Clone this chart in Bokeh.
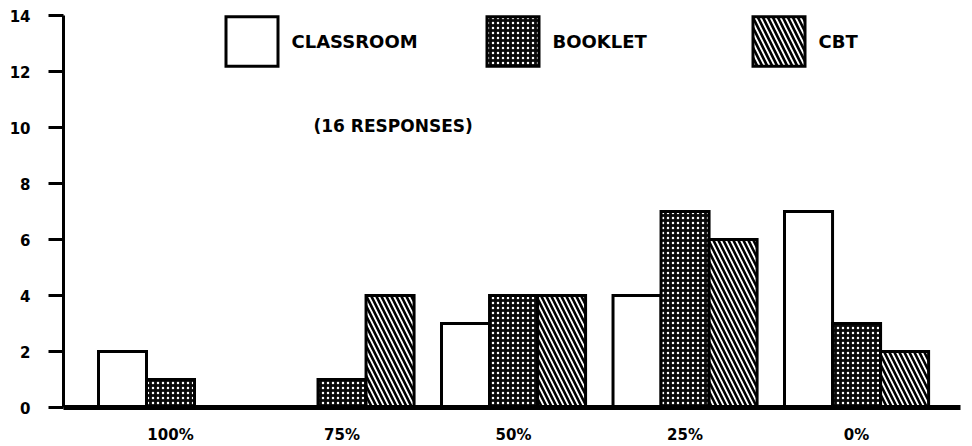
from bokeh.plotting import figure
from bokeh.models import Legend, LegendItem, Label, FixedTicker
from bokeh.embed import file_html
from bokeh.resources import INLINE
import numpy as np

# ---- data ----
categories = ["100%", "75%", "50%", "25%", "0%"]
classroom = [2, 0, 3, 4, 7]
booklet = [1, 1, 4, 7, 3]
cbt = [0, 4, 4, 6, 2]
y_ticks = [0, 2, 4, 6, 8, 10, 12, 14]
series_names = ["CLASSROOM", "BOOKLET", "CBT"]
note = "(16 RESPONSES)"

FONT = "DejaVu Sans"
idx = np.arange(len(categories))
W = 0.28

p = figure(width=970, height=446, x_range=(-0.624, 4.606), y_range=(0, 14),
           output_backend="svg", toolbar_location=None,
           min_border_left=63, min_border_right=10, min_border_top=15, min_border_bottom=38)
p.outline_line_color = None
p.xgrid.visible = False
p.ygrid.visible = False
p.background_fill_color = "white"

common = dict(width=W, bottom=0, line_color="black", line_width=3, line_join="miter")
r1 = p.vbar(x=idx - W, top=classroom, fill_color="white", **common)
r2 = p.vbar(x=idx, top=booklet, fill_color="#0a0a0a", hatch_pattern="dot",
            hatch_color="white", hatch_scale=5, hatch_weight=1, **common)
r3 = p.vbar(x=idx + W, top=cbt, fill_color="white", hatch_pattern="left_diagonal_line",
            hatch_color="black", hatch_scale=10, hatch_weight=2.6, **common)

# axes
p.xaxis.ticker = FixedTicker(ticks=list(idx))
p.xaxis.major_label_overrides = {int(i): c for i, c in zip(idx, categories)}
p.xaxis.major_tick_line_color = None
p.xaxis.minor_tick_line_color = None
p.xaxis.axis_line_width = 5
p.xaxis.major_label_standoff = 12
p.xaxis.major_label_text_font = FONT
p.xaxis.major_label_text_font_style = "bold"
p.xaxis.major_label_text_font_size = "15px"
p.xaxis.major_label_text_color = "black"

p.yaxis.ticker = FixedTicker(ticks=y_ticks)
p.yaxis.axis_line_width = 3
p.yaxis.major_tick_line_width = 3
p.yaxis.major_tick_out = 15
p.yaxis.major_tick_in = 0
p.yaxis.minor_tick_line_color = None
p.yaxis.major_label_standoff = 18
p.yaxis.major_label_text_font = FONT
p.yaxis.major_label_text_font_style = "bold"
p.yaxis.major_label_text_font_size = "15px"
p.yaxis.major_label_text_color = "black"

# legends (one per item, placed like the original)
legend_x = [155.5, 416.5, 682.5]
for name, r, lx in zip(series_names, [r1, r2, r3], legend_x):
    lg = Legend(items=[LegendItem(label=name, renderers=[r])], location=(lx, 335),
                glyph_width=65, glyph_height=62, label_standoff=8, padding=0, margin=0,
                border_line_color=None, background_fill_alpha=0,
                label_text_font=FONT, label_text_font_style="bold",
                label_text_font_size="18px", label_text_color="black")
    p.add_layout(lg)

p.add_layout(Label(x=250, y=282, x_units="screen", y_units="screen", text=note,
                   text_baseline="middle", text_font=FONT, text_font_style="bold",
                   text_font_size="17px", text_color="black"))

open("out.html", "w").write(file_html(p, INLINE))
